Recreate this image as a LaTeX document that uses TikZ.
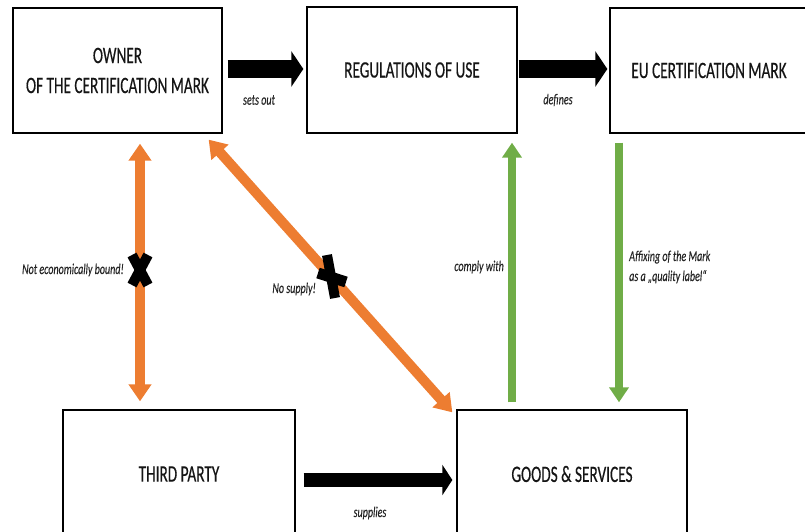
\documentclass[tikz,border=0pt]{standalone}
\usepackage{fontspec}
\setmainfont{Carlito}[FakeStretch=0.67]
\newfontfamily\boxfont{Carlito}[FakeStretch=0.65, FakeBold=0.35]
\newfontfamily\lblfont{Carlito}[FakeStretch=0.67, FakeBold=0.25]
\usetikzlibrary{arrows.meta,calc}
\definecolor{orng}{HTML}{ED7D31}
\definecolor{grn}{HTML}{70AD47}
\definecolor{txtc}{HTML}{151515}
\definecolor{lblc}{HTML}{262626}
\begin{document}
\begin{tikzpicture}[x=1pt,y=1pt,
  box/.style={draw=black, line width=1.3pt, fill=white, align=center, text=txtc,
    font=\boxfont\fontsize{23.5}{30}\selectfont, inner sep=0pt},
  lbl/.style={font=\lblfont\itshape\fontsize{15}{20}\selectfont, text=lblc, inner sep=0pt, align=left},
  blockarrow/.style={draw=black, line width=18pt, -{Triangle[length=12pt,width=35pt]}},
  orarrow/.style={draw=orng, line width=10pt, {Triangle[length=17pt,width=22pt]}-{Triangle[length=17pt,width=22pt]}},
  grnarrow/.style={draw=grn, line width=8pt, -{Triangle[length=15pt,width=19pt]}},
  crossbar/.style={draw=black, line width=10pt}
]
\useasboundingbox (0,0) rectangle (805,531);
\clip (0,0) rectangle (805,531);

% boxes
\node[box, minimum width=209pt, minimum height=125pt] (owner) at (117.5,460.5) {OWNER\\OF THE CERTIFICATION MARK};
\node[box, minimum width=210pt, minimum height=126pt] (regs) at (412,461) {REGULATIONS OF USE};
\node[box, minimum width=198pt, minimum height=125pt] (eumark) at (709,460.5) {EU CERTIFICATION MARK};
\node[box, minimum width=232pt, minimum height=128pt] (third) at (179,57) {THIRD PARTY};
\node[box, minimum width=230pt, minimum height=128pt] (goods) at (572,57) {GOODS \& SERVICES};

% black block arrows
\draw[blockarrow, shorten <=5pt, shorten >=3pt] (owner.east |- 0,462) -- (regs.west |- 0,462);
\draw[blockarrow, shorten <=1pt, shorten >=2pt] (regs.east |- 0,462) -- (eumark.west |- 0,462);
\draw[blockarrow, line width=14pt, -{Triangle[length=10pt,width=30pt]}, shorten <=8pt, shorten >=4pt] (third.east |- 0,51) -- (goods.west |- 0,51);

\node[lbl] (lsets) at (259,431) {sets out};
\node[lbl] (ldef) at (558,431) {defines};
\node[lbl] (lsup) at (370,18) {supplies};

% orange arrows
\draw[orarrow, shorten <=10pt, shorten >=8pt] (140,0 |- owner.south) -- (140,0 |- third.north);
\draw[orarrow] ($(owner.south east)+(-14,-6)$) -- ($(goods.north west)+(-4,-3)$);

% crosses
\draw[crossbar] (132,276) -- (148,246);
\draw[crossbar] (148,276) -- (132,246);
\draw[crossbar, line width=10pt] (327,276) -- (335,233);
\draw[crossbar, line width=11pt] (318,258) -- (346,249);

\node[lbl, anchor=east] (lnot) at (124,261) {Not economically bound!};
\node[lbl, anchor=east] (lnos) at (316,242) {No supply!};

% green arrows
\draw[grnarrow, shorten <=7pt, shorten >=9pt] (512,0 |- goods.north) -- (512,0 |- regs.south);
\draw[grnarrow, shorten <=9pt, shorten >=7pt] (619,0 |- eumark.south) -- (619,0 |- goods.north);

\node[lbl, anchor=east] (lcomp) at (504,264) {comply with};
\node[lbl, anchor=west] (laff) at (629,264) {Affixing of the Mark\\as a „quality label“};
\end{tikzpicture}
\end{document}
